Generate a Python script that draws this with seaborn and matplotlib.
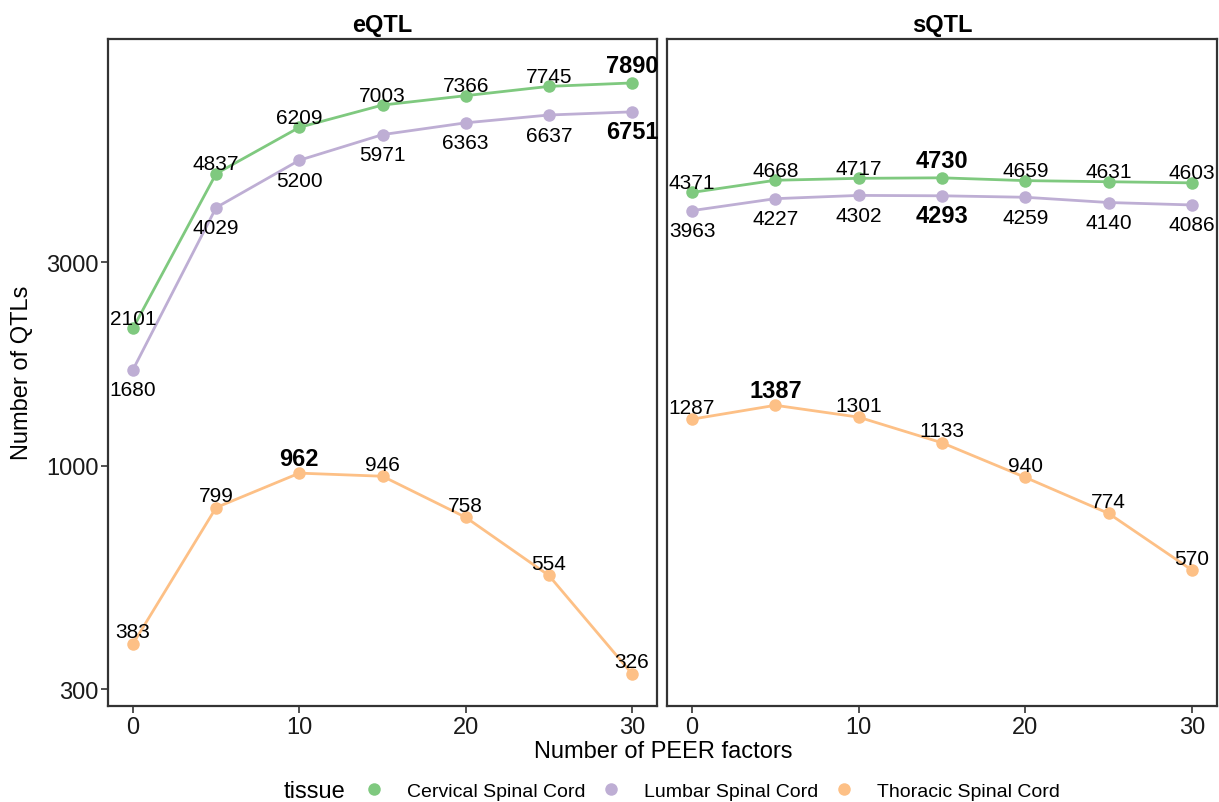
import numpy as np
import pandas as pd
import seaborn as sns
from matplotlib import pyplot as plt
from matplotlib.lines import Line2D
from matplotlib.ticker import FixedLocator, NullLocator

# data
peer = [0, 5, 10, 15, 20, 25, 30]
tissues = ['Cervical Spinal Cord', 'Lumbar Spinal Cord', 'Thoracic Spinal Cord']
eqtl_cervical = [2101, 4837, 6209, 7003, 7366, 7745, 7890]
eqtl_lumbar = [1680, 4029, 5200, 5971, 6363, 6637, 6751]
eqtl_thoracic = [383, 799, 962, 946, 758, 554, 326]
sqtl_cervical = [4371, 4668, 4717, 4730, 4659, 4631, 4603]
sqtl_lumbar = [3963, 4227, 4302, 4293, 4259, 4140, 4086]
sqtl_thoracic = [1287, 1387, 1301, 1133, 940, 774, 570]
# PEER factor picked (bold label) per tissue
eqtl_best = [30, 30, 10]
sqtl_best = [15, 15, 5]

colors = {'Cervical Spinal Cord': '#7FC97F',
          'Lumbar Spinal Cord': '#BEAED4',
          'Thoracic Spinal Cord': '#FDC086'}
# label offset (pixels) above / below the point
offsets = {'Cervical Spinal Cord': 10, 'Lumbar Spinal Cord': -20, 'Thoracic Spinal Cord': 12}
bold_offsets = {'Cervical Spinal Cord': 17, 'Lumbar Spinal Cord': -20, 'Thoracic Spinal Cord': 15}

rows = []
for qtl, series, best in [('eQTL', [eqtl_cervical, eqtl_lumbar, eqtl_thoracic], eqtl_best),
                          ('sQTL', [sqtl_cervical, sqtl_lumbar, sqtl_thoracic], sqtl_best)]:
    for tissue, vals, b in zip(tissues, series, best):
        for p, v in zip(peer, vals):
            rows.append({'type': qtl, 'tissue': tissue, 'peer': p, 'n': v, 'best': p == b})
df = pd.DataFrame(rows)

sns.set_theme(style='white')
plt.rcParams['font.family'] = ['Liberation Sans', 'DejaVu Sans']
plt.rcParams['text.color'] = 'black'

fig = plt.figure(figsize=(12.19, 8.03), dpi=100)
ax1 = fig.add_axes([108 / 1219, 1 - 707 / 803, 549 / 1219, 667 / 803])
ax2 = fig.add_axes([667 / 1219, 1 - 707 / 803, 550 / 1219, 667 / 803], sharey=ax1)

for ax, qtl in [(ax1, 'eQTL'), (ax2, 'sQTL')]:
    sub = df[df['type'] == qtl]
    sns.lineplot(data=sub, x='peer', y='n', hue='tissue', palette=colors,
                 marker='o', markersize=9, markeredgewidth=0, linewidth=2,
                 legend=False, ax=ax)
    for _, r in sub.iterrows():
        off = bold_offsets[r['tissue']] if r['best'] else offsets[r['tissue']]
        ax.annotate(str(r['n']), (r['peer'], r['n']), xytext=(0, off), textcoords='offset pixels',
                    ha='center', va='center',
                    fontsize=17 if r['best'] else 15,
                    fontweight='bold' if r['best'] else 'normal', color='black')
    ax.set_yscale('log')
    ax.set_ylim(274, 10000)
    ax.set_xlim(-1.5, 31.5)
    ax.set_xticks([0, 10, 20, 30])
    ax.set_title(qtl, fontsize=17, fontweight='bold', pad=6, color='black')
    ax.set_xlabel('')
    ax.set_ylabel('')
    for s in ax.spines.values():
        s.set_color('#333333')
        s.set_linewidth(1.6)
    ax.tick_params(axis='both', which='major', labelsize=17, length=5, width=1.2, pad=2,
                   color='#333333', labelcolor='#1a1a1a', direction='out', bottom=True, left=True)
    ax.yaxis.set_minor_locator(NullLocator())

ax1.yaxis.set_major_locator(FixedLocator([300, 1000, 3000]))
ax1.set_yticklabels(['300', '1000', '3000'])
ax2.tick_params(axis='y', left=False, labelleft=False)

fig.text(22 / 1219, 1 - 373 / 803, 'Number of QTLs', rotation=90, ha='center', va='center', fontsize=17)
fig.text(663 / 1219, 1 - 752 / 803, 'Number of PEER factors', ha='center', va='center', fontsize=17)

handles = [Line2D([], [], linestyle='none', marker='o', markersize=9, markeredgewidth=0,
                  color=colors[t]) for t in tissues]
fig.legend(handles, tissues, loc='center', bbox_to_anchor=(712 / 1219, 1 - 792 / 803),
           ncol=3, frameon=False, fontsize=14, handlelength=1.0, handletextpad=1.2,
           columnspacing=0.8, borderaxespad=0)
fig.text(314 / 1219, 1 - 792 / 803, 'tissue', ha='center', va='center', fontsize=17)

fig.savefig('out.png', dpi=100)
